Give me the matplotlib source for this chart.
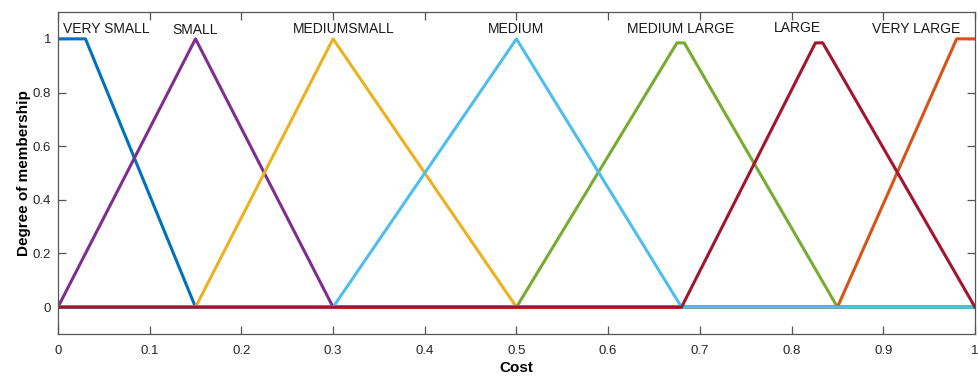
import matplotlib
matplotlib.use("Agg")
import matplotlib.pyplot as plt

plt.rcParams['font.family'] = ['Liberation Sans', 'DejaVu Sans']

# Membership function vertices (cost, degree) for each linguistic term
vs_x = [0.0, 0.03, 0.15, 1.0]
vs_y = [1.0, 1.0, 0.0, 0.0]

s_x = [0.0, 0.15, 0.30, 1.0]
s_y = [0.0, 1.0, 0.0, 0.0]

ms_x = [0.0, 0.15, 0.30, 0.50, 1.0]
ms_y = [0.0, 0.0, 1.0, 0.0, 0.0]

m_x = [0.0, 0.30, 0.50, 0.68, 1.0]
m_y = [0.0, 0.0, 1.0, 0.0, 0.0]

ml_x = [0.0, 0.50, 0.675, 0.683, 0.85, 1.0]
ml_y = [0.0, 0.0, 0.985, 0.985, 0.0, 0.0]

l_x = [0.0, 0.68, 0.826, 0.834, 1.0]
l_y = [0.0, 0.0, 0.985, 0.985, 0.0]

vl_x = [0.0, 0.85, 0.98, 1.0]
vl_y = [0.0, 0.0, 1.0, 1.0]

labels = ["VERY SMALL", "SMALL", "MEDIUMSMALL", "MEDIUM",
          "MEDIUM LARGE", "LARGE", "VERY LARGE"]
label_x = [0.053, 0.150, 0.312, 0.500, 0.679, 0.806, 0.936]
label_y = [1.038, 1.032, 1.035, 1.035, 1.035, 1.040, 1.035]

x_ticks = [0, 0.1, 0.2, 0.3, 0.4, 0.5, 0.6, 0.7, 0.8, 0.9, 1]
x_tick_labels = ["0", "0.1", "0.2", "0.3", "0.4", "0.5", "0.6", "0.7", "0.8", "0.9", "1"]
y_ticks = [0, 0.2, 0.4, 0.6, 0.8, 1]
y_tick_labels = ["0", "0.2", "0.4", "0.6", "0.8", "1"]

colors = {
    "vs": (0.000, 0.447, 0.741),
    "s": (0.494, 0.184, 0.556),
    "ms": (0.929, 0.694, 0.125),
    "m": (0.301, 0.745, 0.933),
    "ml": (0.466, 0.674, 0.188),
    "l": (0.635, 0.078, 0.184),
    "vl": (0.850, 0.325, 0.098),
}

fig = plt.figure(figsize=(9.79, 3.77), dpi=100)
ax = fig.add_axes([0.0592, 0.1141, 0.9367, 0.8540])

lw = 2.2
# draw order controls which curve shows on the shared zero baseline
for key, xs, ys in [("vs", vs_x, vs_y), ("s", s_x, s_y), ("ms", ms_x, ms_y),
                    ("ml", ml_x, ml_y), ("vl", vl_x, vl_y), ("m", m_x, m_y),
                    ("l", l_x, l_y)]:
    ax.plot(xs, ys, color=colors[key], lw=lw, solid_joinstyle='round')

for t, tx, ty in zip(labels, label_x, label_y):
    ax.text(tx, ty, t, ha='center', va='center', fontsize=10, color='#1a1a1a')

ax.set_xlim(0, 1)
ax.set_ylim(-0.1, 1.1)
ax.set_xticks(x_ticks)
ax.set_xticklabels(x_tick_labels)
ax.set_yticks(y_ticks)
ax.set_yticklabels(y_tick_labels)

edge = '#555555'
for sp in ax.spines.values():
    sp.set_color(edge)
    sp.set_linewidth(0.9)
ax.tick_params(direction='in', length=6, width=0.9, color=edge,
               top=True, right=True, labelsize=9.5, labelcolor='#262626')
ax.tick_params(axis='x', pad=8)
ax.tick_params(axis='y', pad=5)

ax.set_xlabel("Cost", fontsize=11, fontweight='bold', labelpad=3)
ax.set_ylabel("Degree of membership", fontsize=11, fontweight='bold', labelpad=1.5)

fig.savefig("out.png", dpi=100)
